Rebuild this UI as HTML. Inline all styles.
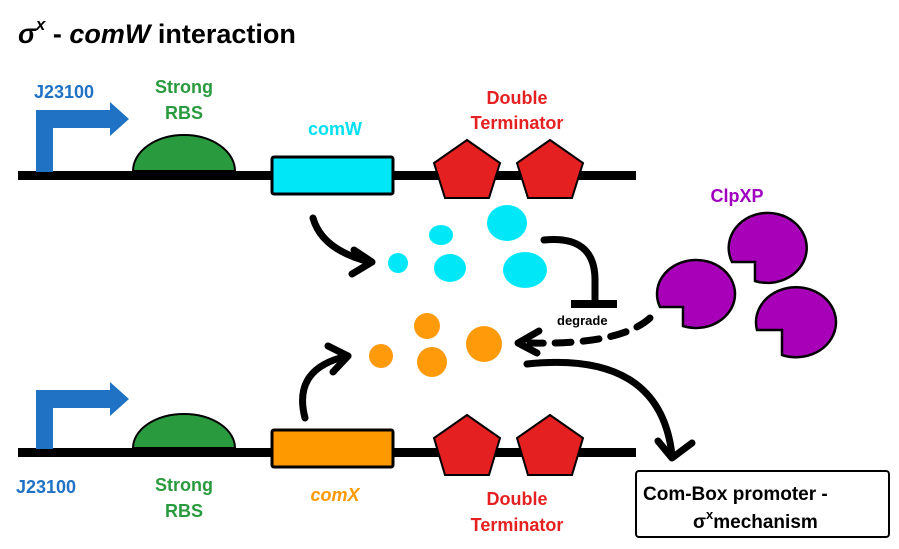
<!DOCTYPE html>
<html><head><meta charset="utf-8"><style>
body{margin:0;background:#fff}
svg{display:block}
text{font-family:"Liberation Sans",sans-serif;font-weight:bold}
</style></head><body>
<svg width="899" height="549" viewBox="0 0 899 549" xmlns="http://www.w3.org/2000/svg">
<text x="18" y="43" font-size="27" fill="#000"><tspan font-style="italic">σ</tspan><tspan font-size="17" dy="-13" font-style="italic">x</tspan><tspan dy="13"> - </tspan><tspan font-style="italic">comW</tspan> interaction</text>

<!-- top construct -->
<rect x="18" y="171" width="618" height="9" fill="#000"/>
<path d="M36 172 V110 H110 V102 L129 119 L110 136 V128 H53 V172 Z" fill="#1f72c4"/>
<text x="34" y="98" font-size="18" fill="#1f72c4">J23100</text>
<path d="M133 171 A51 36 0 0 1 235 171 Z" fill="#2a9a3e" stroke="#000" stroke-width="2"/>
<text x="184" y="93" font-size="18" fill="#2a9a3e" text-anchor="middle">Strong</text>
<text x="184" y="119" font-size="18" fill="#2a9a3e" text-anchor="middle">RBS</text>
<rect x="272" y="157" width="121" height="37" fill="#00e8f8" stroke="#000" stroke-width="3" rx="2"/>
<text x="335" y="135" font-size="18" fill="#00e0f0" text-anchor="middle">comW</text>
<polygon points="467,140 500,163 489,198 445,198 434,163" fill="#e52020" stroke="#000" stroke-width="2"/>
<polygon points="550,140 583,163 572,198 528,198 517,163" fill="#e52020" stroke="#000" stroke-width="2"/>
<text x="517" y="104" font-size="18" fill="#e52020" text-anchor="middle">Double</text>
<text x="517" y="129" font-size="18" fill="#e52020" text-anchor="middle">Terminator</text>

<!-- bottom construct -->
<rect x="18" y="448" width="618" height="9" fill="#000"/>
<path d="M36 449 V390 H110 V382 L129 399 L110 416 V408 H53 V449 Z" fill="#1f72c4"/>
<text x="16" y="493" font-size="18" fill="#1f72c4">J23100</text>
<path d="M133 448 A51 34 0 0 1 235 448 Z" fill="#2a9a3e" stroke="#000" stroke-width="2"/>
<text x="184" y="491" font-size="18" fill="#2a9a3e" text-anchor="middle">Strong</text>
<text x="184" y="517" font-size="18" fill="#2a9a3e" text-anchor="middle">RBS</text>
<rect x="272" y="430" width="121" height="37" fill="#ff9900" stroke="#000" stroke-width="3" rx="2"/>
<text x="335" y="501" font-size="18" fill="#ff9900" font-style="italic" text-anchor="middle">comX</text>
<polygon points="467,415 500,438 489,475 445,475 434,438" fill="#e52020" stroke="#000" stroke-width="2"/>
<polygon points="550,415 583,438 572,475 528,475 517,438" fill="#e52020" stroke="#000" stroke-width="2"/>
<text x="517" y="505" font-size="18" fill="#e52020" text-anchor="middle">Double</text>
<text x="517" y="531" font-size="18" fill="#e52020" text-anchor="middle">Terminator</text>

<!-- cyan circles -->
<g fill="#00e8f8">
<ellipse cx="441" cy="235" rx="12" ry="10"/>
<circle cx="398" cy="263" r="10"/>
<ellipse cx="450" cy="268" rx="16" ry="14"/>
<ellipse cx="507" cy="223" rx="20" ry="18"/>
<ellipse cx="525" cy="270" rx="22" ry="18"/>
</g>
<g fill="#ff9a0a">
<circle cx="427" cy="326" r="13"/>
<circle cx="381" cy="356" r="12"/>
<circle cx="432" cy="362" r="15"/>
<circle cx="484" cy="344" r="18"/>
</g>

<!-- arrows -->
<g fill="none" stroke="#000" stroke-width="7" stroke-linecap="round" stroke-linejoin="round">
<path d="M313 218 Q322 250 370 262"/>
<path d="M354 250 L372 262 L352 274"/>
<path d="M305 418 Q292 368 348 356"/>
<path d="M328 346 L348 356 L333 372"/>
<path d="M544 240 Q595 235 595 280 V302"/>
<path d="M571 304 H617" stroke-width="8" stroke-linecap="butt"/>
<path d="M650 318 Q620 345 530 343" stroke-dasharray="16 12"/>
<path d="M539 331 L518 343 L537 353"/>
<path d="M527 364 Q660 350 672 455"/>
<path d="M658 441 L672 458 L692 443"/>
</g>
<text x="557" y="325" font-size="13" fill="#000">degrade</text>

<!-- ClpXP -->
<g fill="#a800b8" stroke="#000" stroke-width="2.5" stroke-linejoin="miter">
<path d="M660 307 A39 34 0 1 1 683 326 L683 307 Z"/>
<path d="M732 262 A39 35 0 1 1 755 281 L755 262 Z"/>
<path d="M757 330 A40 35 0 1 1 782 355 L782 330 Z"/>
</g>
<text x="737" y="202" font-size="18" fill="#a000c0" text-anchor="middle">ClpXP</text>

<!-- box -->
<rect x="636" y="471" width="253" height="66" rx="3" fill="#fff" stroke="#000" stroke-width="2"/>
<text x="643" y="500" font-size="19" fill="#000">Com-Box promoter -</text>
<text x="693" y="528" font-size="19" fill="#000">σ<tspan font-size="13" dy="-9">x</tspan><tspan dy="9">mechanism</tspan></text>
</svg>
</body></html>
